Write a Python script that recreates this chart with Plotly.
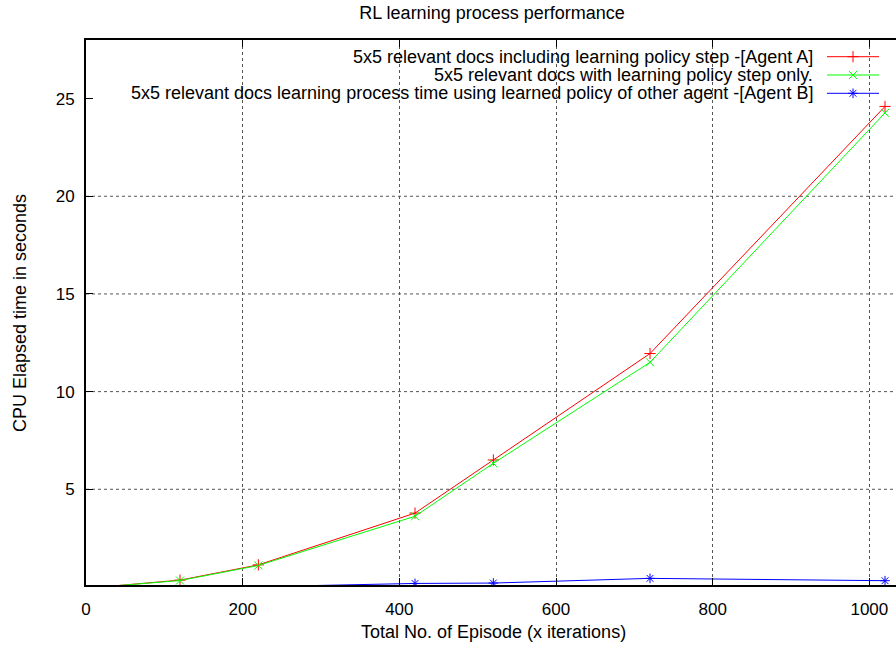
import plotly.graph_objects as go

# Episode counts (x iterations) and CPU elapsed time in seconds
episodes = [20, 120, 220, 420, 520, 720, 1020]
agent_a_with_policy = [0.0, 0.35, 1.13, 3.78, 6.5, 11.95, 24.6]
policy_step_only = [0.0, 0.33, 1.1, 3.62, 6.33, 11.5, 24.27]
agent_b_learned_policy = [0.0, 0.005, 0.013, 0.18, 0.2, 0.44, 0.32]

series_names = [
    "5x5 relevant docs including learning policy step -[Agent A]",
    "5x5 relevant docs with learning policy step only.",
    "5x5 relevant docs learning process time using learned policy of other agent -[Agent B]",
]
series_values = [agent_a_with_policy, policy_step_only, agent_b_learned_policy]
series_colors = ["#ff0000", "#00ff00", "#0000ff"]
series_symbols = ["cross-thin-open", "x-thin-open", "asterisk-open"]

x_ticks = [0, 200, 400, 600, 800, 1000]
y_ticks = [5, 10, 15, 20, 25]
y_grid = [5, 10, 15, 20]

X_RANGE = [0, 1034]
Y_RANGE = [0.1, 28]

FONT = "Liberation Sans, Arial, Helvetica, sans-serif"
W, H = 896, 646
M_L, M_R, M_T, M_B = 86, 0, 40, 61
plot_w = W - M_L - M_R
plot_h = H - M_T - M_B
TEXT_SIZE = 18
MARK_SIZE = 8


def px_x(px):
    return (px - M_L) / plot_w


def px_y(py):
    return (H - M_B - py) / plot_h


fig = go.Figure()

for name, vals, color, sym in zip(series_names, series_values, series_colors, series_symbols):
    fig.add_trace(go.Scatter(
        x=episodes, y=vals, mode="lines",
        line=dict(color=color, width=1),
        showlegend=False, hoverinfo="skip",
    ))
    # points below the visible range are not drawn
    shown = [(x, y) for x, y in zip(episodes, vals) if y >= Y_RANGE[0]]
    fig.add_trace(go.Scatter(
        x=[p[0] for p in shown], y=[p[1] for p in shown], mode="markers",
        marker=dict(symbol=sym, size=MARK_SIZE, color=color, line=dict(color=color, width=1)),
        showlegend=False, name=name,
    ))

# key: text on the left, sample on the right
key_rows_px = [56.7, 75.0, 93.3]
line_x0, line_x1, mark_x, text_right = px_x(827), px_x(879), px_x(853), px_x(815)
annotations = []
for name, color, sym, row in zip(series_names, series_colors, series_symbols, key_rows_px):
    ry = px_y(row)
    fig.add_trace(go.Scatter(
        x=[line_x0, line_x1], y=[ry, ry], mode="lines",
        line=dict(color=color, width=1), xaxis="x2", yaxis="y2",
        showlegend=False, hoverinfo="skip",
    ))
    fig.add_trace(go.Scatter(
        x=[mark_x], y=[ry], mode="markers",
        marker=dict(symbol=sym, size=MARK_SIZE, color=color, line=dict(color=color, width=1)),
        xaxis="x2", yaxis="y2", showlegend=False, hoverinfo="skip",
    ))
    annotations.append(dict(
        text=name, xref="paper", yref="paper", x=text_right, y=ry,
        xanchor="right", yanchor="middle", showarrow=False,
        font=dict(family=FONT, size=TEXT_SIZE, color="#000000"),
    ))

annotations.append(dict(
    text="CPU Elapsed time in seconds", xref="paper", yref="paper",
    x=px_x(20), y=px_y(313), textangle=-90, xanchor="center", yanchor="middle",
    showarrow=False, font=dict(family=FONT, size=TEXT_SIZE, color="#000000"),
))
annotations.append(dict(
    text="Total No. of Episode (x iterations)", xref="paper", yref="paper",
    x=px_x(493), y=px_y(632), xanchor="center", yanchor="middle",
    showarrow=False, font=dict(family=FONT, size=TEXT_SIZE, color="#000000"),
))

shapes = [
    dict(type="line", xref="paper", yref="y", x0=0, x1=1, y0=g, y1=g,
         line=dict(color="#555555", width=1, dash="dot"), layer="below")
    for g in y_grid
]

fig.update_layout(
    width=W, height=H,
    margin=dict(l=M_L, r=M_R, t=M_T, b=M_B),
    paper_bgcolor="#ffffff", plot_bgcolor="#ffffff",
    font=dict(family=FONT, size=17, color="#000000"),
    title=dict(
        text="RL learning process performance",
        x=492 / W, xanchor="center",
        y=1 - 13 / H, yanchor="middle", yref="container",
        font=dict(family=FONT, size=TEXT_SIZE, color="#000000"),
    ),
    xaxis=dict(
        range=X_RANGE, tickvals=x_ticks, ticks="inside", ticklen=7, tickwidth=1,
        tickcolor="#000000", showline=True, linecolor="#000000", linewidth=2,
        mirror="ticks", showgrid=True, gridcolor="#555555", griddash="dot",
        gridwidth=1, zeroline=False, ticklabelstandoff=8,
        tickfont=dict(family=FONT, size=17, color="#000000"),
    ),
    yaxis=dict(
        range=Y_RANGE, tickvals=y_ticks, ticks="inside", ticklen=7, tickwidth=1,
        tickcolor="#000000", showline=True, linecolor="#000000", linewidth=2,
        showgrid=False, zeroline=False, ticklabelstandoff=6,
        tickfont=dict(family=FONT, size=17, color="#000000"),
    ),
    xaxis2=dict(overlaying="x", range=[0, 1], visible=False, anchor="y2"),
    yaxis2=dict(overlaying="y", range=[0, 1], visible=False, anchor="x2"),
    annotations=annotations,
    shapes=shapes,
)

fig.write_html("out.html")
